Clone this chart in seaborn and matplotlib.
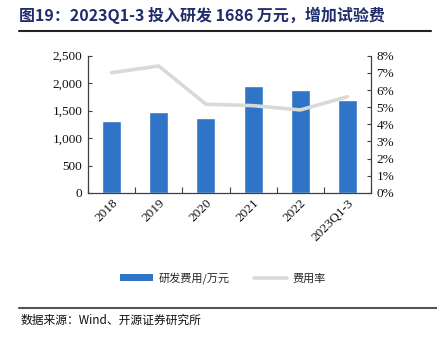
import matplotlib
matplotlib.use("Agg")
import matplotlib.pyplot as plt
from matplotlib.lines import Line2D
from matplotlib.patches import Patch
from matplotlib.ticker import FuncFormatter, MultipleLocator
import seaborn as sns
import pandas as pd

# R&D spending (10k yuan) and expense ratio (%)
years = ["2018", "2019", "2020", "2021", "2022", "2023Q1-3"]
rd_spend = [1309, 1467, 1370, 1951, 1867, 1686]
rd_ratio = [7.01, 7.40, 5.17, 5.09, 4.84, 5.61]

title_text = "图19：2023Q1-3 投入研发 1686 万元，增加试验费"
source_text = "数据来源：Wind、开源证券研究所"
bar_label = "研发费用/万元"
line_label = "费用率"

sns.set_theme(style="white")
cjk = ["Noto Sans CJK SC", "DejaVu Sans"]
serif = ["Liberation Serif", "Noto Sans CJK SC"]
plt.rcParams["font.family"] = cjk

bar_color = "#2F74C6"
line_color = "#D9D9D9"
axis_color = "#404040"

df = pd.DataFrame({"year": years, "spend": rd_spend, "ratio": rd_ratio})

fig = plt.figure(figsize=(4.37, 3.40), dpi=100)

# Full-figure layer for the header/footer rules
frame = fig.add_axes([0, 0, 1, 1], zorder=10)
frame.set_xlim(0, 1)
frame.set_ylim(0, 1)
frame.axis("off")
frame.axhline(0.910, xmin=0.043, xmax=0.986, color="#222222", linewidth=1.5)
frame.axhline(0.095, xmin=0.043, xmax=1.0, color="#555555", linewidth=1.5)

ax = fig.add_axes([0.2014, 0.4324, 0.6476, 0.4038])

sns.barplot(data=df, x="year", y="spend", color=bar_color, width=0.4,
            saturation=1, ax=ax, zorder=2)
ax.set_xlim(-0.5, 5.5)
ax.set_ylim(0, 2500)
ax.yaxis.set_major_locator(MultipleLocator(500))
ax.yaxis.set_major_formatter(FuncFormatter(lambda v, p: f"{int(v):,}"))

ax2 = ax.twinx()
sns.lineplot(data=df, x="year", y="ratio", color=line_color, linewidth=2.6,
             sort=False, ax=ax2, zorder=3)
ax2.set_ylim(0, 8)
ax2.yaxis.set_major_locator(MultipleLocator(1))
ax2.yaxis.set_major_formatter(FuncFormatter(lambda v, p: f"{int(round(v))}%"))

for a in (ax, ax2):
    a.set_xlabel("")
    a.set_ylabel("")
    a.patch.set_alpha(0)
    for s in a.spines.values():
        s.set_visible(False)

ax.spines["left"].set_visible(True)
ax.spines["bottom"].set_visible(True)
ax2.spines["right"].set_visible(True)
for s in (ax.spines["left"], ax.spines["bottom"], ax2.spines["right"]):
    s.set_color(axis_color)
    s.set_linewidth(0.9)

# Category boundary ticks on the x axis
ax.set_xticks(range(len(years)))
ax.set_xticks([i + 0.5 for i in range(-1, len(years))], minor=True)
ax.tick_params(axis="x", which="major", length=0, pad=3)
ax.tick_params(axis="x", which="minor", direction="in", length=4,
               color=axis_color, width=0.8, bottom=True)
ax.tick_params(axis="y", direction="in", length=3, color=axis_color,
               width=0.8, left=True, pad=4)
ax2.tick_params(axis="y", direction="in", length=3, color=axis_color,
                width=0.8, right=True, pad=4)

for lab in ax.get_xticklabels():
    lab.set_rotation(45)
    lab.set_ha("right")
    lab.set_rotation_mode("anchor")
    lab.set_family(serif)
    lab.set_fontsize(9.5)
    lab.set_color("#111111")
for lab in ax.get_yticklabels() + ax2.get_yticklabels():
    lab.set_family(serif)
    lab.set_fontsize(9.5)
    lab.set_color("#111111")

# Legend
handles = [Patch(facecolor=bar_color, edgecolor="none", label=bar_label),
           Line2D([0], [0], color=line_color, linewidth=2.6, label=line_label)]
fig.legend(handles=handles, loc="center", bbox_to_anchor=(0.51, 0.182),
           ncol=2, frameon=False, handlelength=3.0,
           handleheight=0.6, columnspacing=2.2, handletextpad=0.5,
           prop={"family": cjk, "size": 8})

# Title and source
fig.text(0.044, 0.955, title_text, ha="left", va="center", fontsize=11.5,
         fontweight="bold", color="#1F2D6B", family=cjk)
fig.text(0.046, 0.057, source_text, ha="left", va="center", fontsize=8.5,
         color="#111111", family=cjk)

fig.savefig("out.png", dpi=100)
